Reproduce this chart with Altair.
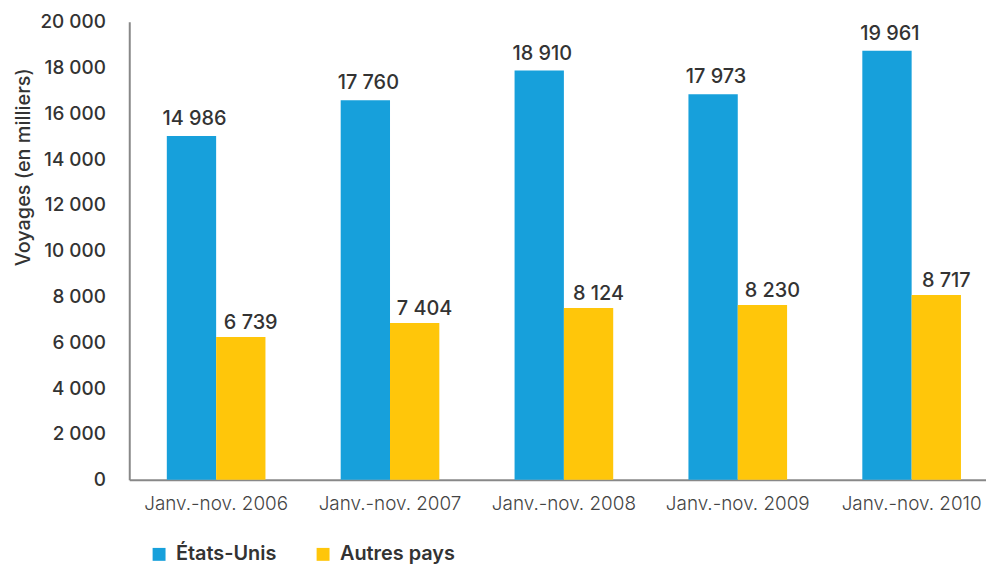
import altair as alt
import pandas as pd

categories = ["Janv.-nov. 2006", "Janv.-nov. 2007", "Janv.-nov. 2008",
              "Janv.-nov. 2009", "Janv.-nov. 2010"]
series = ["États-Unis", "Autres pays"]
colors = ["#17A0DB", "#FFC60A"]

# values printed above the bars
us_labels = [14986, 17760, 18910, 17973, 19961]
other_labels = [6739, 7404, 8124, 8230, 8717]
# bar heights as drawn in the picture
us_bars = [15010, 16570, 17870, 16830, 18730]
other_bars = [6230, 6850, 7500, 7630, 8070]

y_ticks = [0, 2000, 4000, 6000, 8000, 10000, 12000, 14000, 16000, 18000, 20000]


def fmt(v):
    return f"{v:,}".replace(",", " ")


rows = []
for i, c in enumerate(categories):
    rows.append({"cat": c, "series": series[0], "bar": us_bars[i], "lab": fmt(us_labels[i])})
    rows.append({"cat": c, "series": series[1], "bar": other_bars[i], "lab": fmt(other_labels[i])})
df = pd.DataFrame(rows)

FONT = "Inter"
TXT = "#333333"

x_enc = alt.X("cat:N", sort=categories,
              scale=alt.Scale(paddingInner=0.4327, paddingOuter=0.18, align=0.6),
              axis=alt.Axis(title=None, labelAngle=0, ticks=False, tickSize=0,
                            domainColor="#888888", domainWidth=2,
                            labelFont=FONT, labelFontSize=19, labelFontWeight=300,
                            labelColor="#444444", labelPadding=15))
xo_enc = alt.XOffset("series:N", sort=series,
                     scale=alt.Scale(paddingInner=0, paddingOuter=0))
y_scale = alt.Scale(domain=[0, 20000], nice=False)

base = alt.Chart(df).encode(x=x_enc, xOffset=xo_enc)

bars = base.mark_bar().encode(
    y=alt.Y("bar:Q", scale=y_scale,
            axis=alt.Axis(values=y_ticks, grid=False, ticks=False, tickSize=0,
                          domainColor="#888888", domainWidth=2,
                          labelExpr="replace(format(datum.value, ','), ',', ' ')",
                          labelFont=FONT, labelFontSize=19, labelFontWeight=500,
                          labelColor=TXT, labelPadding=24,
                          title="Voyages (en milliers)", titleFont=FONT,
                          titleFontSize=20, titleFontWeight=500, titleColor=TXT,
                          titleAngle=270, titleX=-106, titleY=146,
                          titleAlign="center", titleBaseline="middle")),
    color=alt.Color("series:N", sort=series,
                    scale=alt.Scale(domain=series, range=colors),
                    legend=alt.Legend(title=None, orient="none", direction="horizontal",
                                      legendX=20, legendY=526,
                                      symbolType="square", symbolSize=169,
                                      symbolStrokeWidth=0, labelOffset=7,
                                      columnPadding=36,
                                      labelFont=FONT, labelFontSize=20,
                                      labelFontWeight=600, labelColor=TXT)),
)

text_us = base.mark_text(baseline="alphabetic", dy=-11, dx=3, font=FONT,
                         fontSize=20, fontWeight=500, color=TXT).encode(
    y=alt.Y("bar:Q", scale=y_scale), text="lab:N"
).transform_filter(alt.datum.series == series[0])

text_other = base.mark_text(baseline="alphabetic", dy=-8, dx=10, font=FONT,
                            fontSize=20, fontWeight=500, color=TXT).encode(
    y=alt.Y("bar:Q", scale=y_scale), text="lab:N"
).transform_filter(alt.datum.series == series[1])

chart = alt.layer(bars, text_us, text_other).properties(
    width=862, height=461,
    autosize=alt.AutoSizeParams(type="none"),
    padding={"left": 122, "top": 12, "right": 0, "bottom": 88},
).configure_view(stroke=None)

chart.save("out.html", embed_options={"renderer": "svg", "actions": False})
